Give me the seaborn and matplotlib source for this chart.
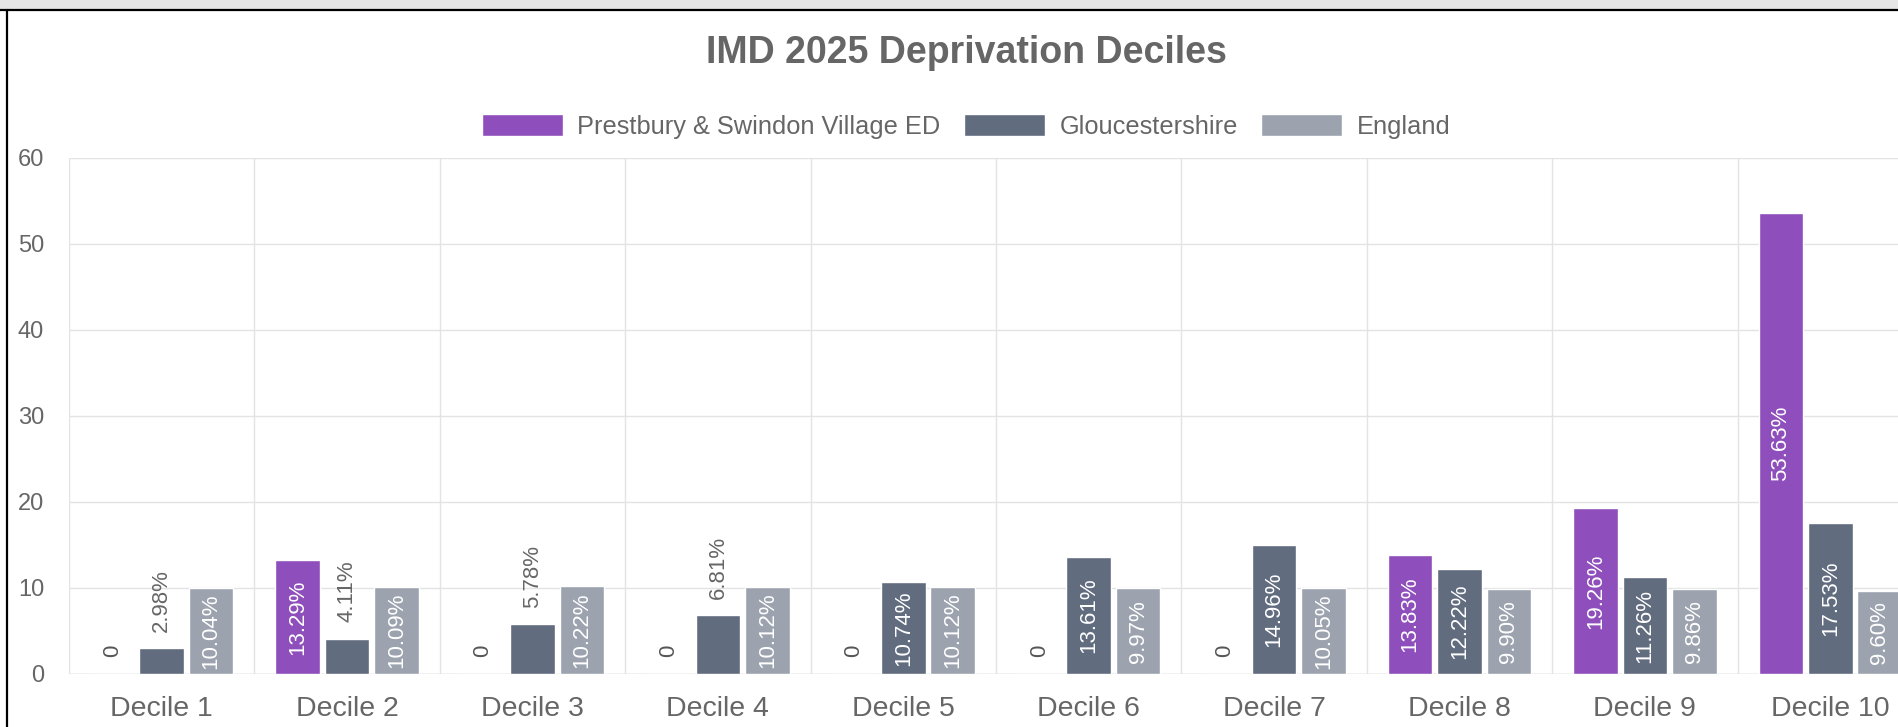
import numpy as np
import pandas as pd
import seaborn as sns
import matplotlib.pyplot as plt
from matplotlib.patches import Rectangle
from matplotlib.lines import Line2D

# data
deciles = [f"Decile {i}" for i in range(1, 11)]
prestbury = [0, 13.29, 0, 0, 0, 0, 0, 13.83, 19.26, 53.63]
gloucestershire = [2.98, 4.11, 5.78, 6.81, 10.74, 13.61, 14.96, 12.22, 11.26, 17.53]
england = [10.04, 10.09, 10.22, 10.12, 10.12, 9.97, 10.05, 9.90, 9.86, 9.60]
series_names = ["Prestbury & Swindon Village ED", "Gloucestershire", "England"]
y_ticks = [0, 10, 20, 30, 40, 50, 60]

colors = ["#8e4ebb", "#626c7f", "#9ca3af"]
text_grey = "#666666"
grid_grey = "#e3e3e3"

sns.set_style("white")
plt.rcParams['font.family'] = ['Liberation Sans', 'DejaVu Sans']

df = pd.DataFrame({
    "decile": deciles * 3,
    "value": prestbury + gloucestershire + england,
    "area": np.repeat(series_names, len(deciles)),
})

W, H = 1898, 727
fig = plt.figure(figsize=(W / 100, H / 100), dpi=100)

# screenshot frame: grey band on top, black border
fig.patches.append(Rectangle((0, 1 - 9 / H), 1, 9 / H, transform=fig.transFigure,
                             color="#e6e6e6", zorder=0))
fig.lines.append(Line2D([0, 1], [1 - 10 / H] * 2, transform=fig.transFigure, color="black", lw=1.6))
fig.lines.append(Line2D([7 / W] * 2, [0, 1 - 10 / H], transform=fig.transFigure, color="black", lw=1.6))

# plot area runs past the right edge, like the cropped screenshot
ax = fig.add_axes([69 / W, 53 / H, 1854 / W, 516 / H])

sns.barplot(data=df, x="decile", y="value", hue="area", palette=colors,
            width=0.8, gap=0.1, ax=ax, saturation=1)

ax.set_xlim(-0.5, 9.5)
ax.set_ylim(0, 60)
ax.set_yticks(y_ticks)
ax.set_xticks(np.arange(-0.5, 10, 1), minor=True)
ax.set_xlabel("")
ax.set_ylabel("")
for s in ax.spines.values():
    s.set_visible(False)

ax.grid(axis="y", which="major", color=grid_grey, lw=1)
ax.grid(axis="x", which="minor", color=grid_grey, lw=1)
ax.grid(axis="x", which="major", visible=False)
ax.axhline(0, color="#d0d0d0", lw=1, zorder=0.5)
ax.set_axisbelow(True)
ax.tick_params(axis="x", which="major", length=0, pad=16, labelsize=20.5, labelcolor=text_grey)
ax.tick_params(axis="x", which="minor", length=10, color=grid_grey, width=1)
ax.tick_params(axis="y", length=11.5, color=grid_grey, width=1, pad=6.5,
               labelsize=17, labelcolor=text_grey)

# bar labels
for vals, cont in zip([prestbury, gloucestershire, england], ax.containers):
    for v, bar in zip(vals, cont):
        x = bar.get_x() + bar.get_width() / 2
        if v == 0:
            ax.annotate("0", (x, 0), xytext=(0, 12), textcoords="offset points",
                        rotation=90, ha="center", va="bottom", fontsize=16, color="#555555")
        elif v < 8:
            ax.annotate(f"{v:.2f}%", (x, v), xytext=(0, 12), textcoords="offset points",
                        rotation=90, ha="center", va="bottom", fontsize=16, color=text_grey)
        else:
            ax.text(x, v / 2, f"{v:.2f}%", rotation=90, ha="center", va="center",
                    fontsize=16, color="white", clip_on=True)

handles, labels = ax.get_legend_handles_labels()
ax.get_legend().remove()
fig.legend(handles, labels, loc="center", bbox_to_anchor=(966 / W, 1 - 126.5 / H), ncol=3,
           frameon=False, fontsize=18.3, handlelength=3.2, handleheight=0.92,
           handletextpad=0.56, columnspacing=0.92, labelcolor=text_grey)

fig.text(966 / W, 1 - 63 / H, "IMD 2025 Deprivation Deciles", ha="center", va="baseline",
         fontsize=27, fontweight="bold", color=text_grey)

fig.savefig("out.png", dpi=100)
